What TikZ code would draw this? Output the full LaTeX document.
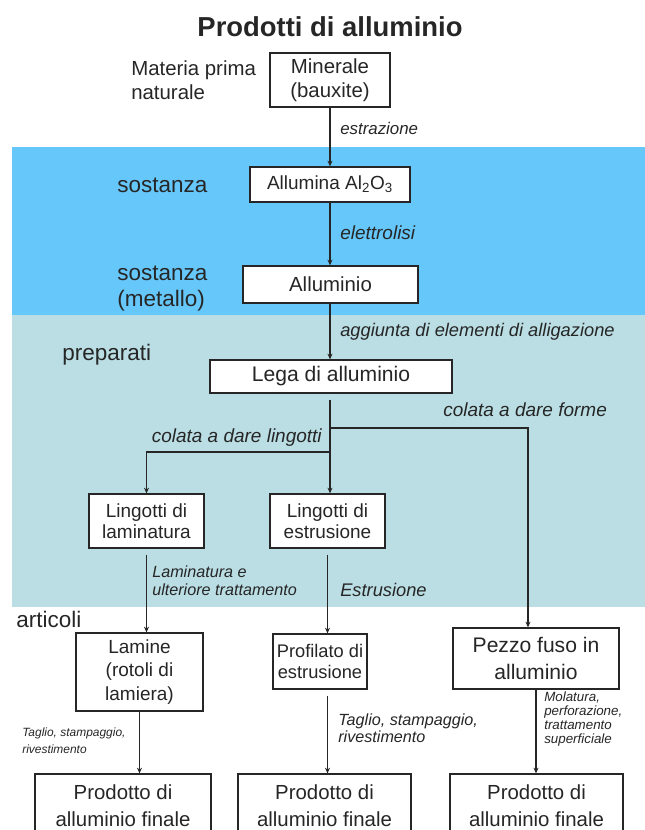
\documentclass[tikz,border=0pt]{standalone}
\usepackage{fontspec}
\setmainfont{Liberation Sans}
\usetikzlibrary{arrows.meta}
\definecolor{bandblue}{RGB}{102,199,250}
\definecolor{bandteal}{RGB}{186,222,228}
\tikzset{
  box/.style={draw=black!85,fill=white,line width=0.9pt,align=center,inner sep=0pt,text=black!85},
  lbl/.style={anchor=west,align=left,inner sep=0pt,text=black!85},
  note/.style={anchor=west,align=left,inner sep=0pt,text=black!85},
  flow/.style={line width=0.8pt,draw=black!85},
}

\begin{document}
\begin{tikzpicture}[x=0.025cm,y=-0.025cm,>={Stealth[length=4pt,width=3.5pt]}]
  \useasboundingbox (0,0) rectangle (645,830);
  % fasce
  \fill[bandblue] (12,147) rectangle (645,315);
  \fill[bandteal] (12,315) rectangle (645,607);

  \node[font=\bfseries\fontsize{19.5}{22}\selectfont,text=black!85] (titolo) at (330,27) {Prodotti di alluminio};

  % livelli
  \node[lbl,font=\fontsize{14.5}{17}\selectfont] (materia) at (131,80) {Materia prima\\naturale};
  \node[lbl,font=\fontsize{16}{19}\selectfont] (sost) at (117,185) {sostanza};
  \node[lbl,font=\fontsize{16}{19}\selectfont] (sostmet) at (117,288.5) {sostanza\\(metallo)};
  \node[lbl,font=\fontsize{16}{19}\selectfont] (prep) at (62,355) {preparati};
  \node[lbl,font=\fontsize{16}{19}\selectfont] (artic) at (16,619) {articoli};

  % caselle
  \node[box,minimum width=30mm,minimum height=13.5mm,font=\fontsize{14.5}{17}\selectfont] (mineral) at (330,80) {Minerale\\(bauxite)};
  \node[box,minimum width=40mm,minimum height=8.75mm,font=\fontsize{13.5}{15}\selectfont] (allumina) at (330,184.5) {Allumina Al\textsubscript{2}O\textsubscript{3}};
  \node[box,minimum width=43.75mm,minimum height=9.25mm,font=\fontsize{14.5}{17}\selectfont] (alluminio) at (330.5,284.5) {Alluminio};
  \node[box,minimum width=60.5mm,minimum height=8.25mm,font=\fontsize{15}{17}\selectfont] (lega) at (331,376.5) {Lega di alluminio};
  \node[box,minimum width=28.75mm,minimum height=13.5mm,font=\fontsize{13.5}{15}\selectfont] (linglam) at (146.5,521) {Lingotti di\\laminatura};
  \node[box,minimum width=28.75mm,minimum height=13.5mm,font=\fontsize{13.5}{15}\selectfont] (lingest) at (327.5,521) {Lingotti di\\estrusione};
  \node[box,minimum width=31.75mm,minimum height=19.5mm,font=\fontsize{13.5}{16.5}\selectfont] (lamine) at (139.5,672) {Lamine\\(rotoli di\\lamiera)};
  \node[box,minimum width=23.5mm,minimum height=13.75mm,font=\fontsize{13}{15}\selectfont] (profilato) at (320,661.5) {Profilato di\\estrusione};
  \node[box,minimum width=41.5mm,minimum height=15.25mm,font=\fontsize{15}{19}\selectfont] (pezzo) at (536,658.5) {Pezzo fuso in\\alluminio};
  \foreach \n/\x/\w in {1/123/44mm,2/324.5/43.25mm,3/536.5/43.25mm}{
    \node[box,minimum width=\w,minimum height=15.75mm,font=\fontsize{14.5}{19}\selectfont] (prod\n) at (\x,805.5) {Prodotto di\\alluminio finale};
  }

  % punti di diramazione
  \coordinate (jforme) at (330,428);
  \coordinate (jlingot) at (330,452);
  \coordinate (pturn) at (528,428);

  % collegamenti
  \draw[flow,->] (mineral.south) -- (mineral.south |- allumina.north);
  \draw[flow,->] (allumina.south) -- (allumina.south |- alluminio.north);
  \draw[flow,->] (alluminio.south -| allumina.south) -- (allumina.south |- lega.north);
  \draw[flow,shorten <=1.5mm] (lega.south -| jlingot) -- (jlingot);
  \draw[flow,->] (jlingot) -- (jlingot |- lingest.north);
  \draw[flow,->] (jlingot) -| (linglam.north);
  \draw[flow,->] (jforme) -- (pturn) -- (pturn |- pezzo.north);
  \draw[flow,->,shorten <=1.5mm] (linglam.south) -- (linglam.south |- lamine.north);
  \draw[flow,->,shorten <=1.5mm] (lingest.south) -- (lingest.south |- profilato.north);
  \draw[flow,->] (lamine.south) -- (lamine.south |- prod1.north);
  \draw[flow,->,shorten <=1.5mm] (profilato.south -| lingest.south) -- (lingest.south |- prod2.north);
  \draw[flow,->] (pezzo.south) -- (pezzo.south |- prod3.north);

  % etichette dei passaggi
  \node[note,font=\itshape\fontsize{12}{14}\selectfont] (estr) at (340,128) {estrazione};
  \node[note,font=\itshape\fontsize{13.5}{15}\selectfont] (elet) at (340,233) {elettrolisi};
  \node[note,font=\itshape\fontsize{13}{15}\selectfont] (aggiunta) at (340,332) {aggiunta di elementi di alligazione};
  \node[note,font=\itshape\fontsize{13.5}{15}\selectfont] (cforme) at (443,410) {colata a dare forme};
  \node[note,anchor=east,font=\itshape\fontsize{13.5}{15}\selectfont] (clingot) at (322,438) {colata a dare lingotti};
  \node[note,font=\itshape\fontsize{11.5}{12.8}\selectfont] (lamin) at (152,581) {Laminatura e\\ulteriore trattamento};
  \node[note,font=\itshape\fontsize{13}{15}\selectfont] (estrus) at (340,590) {Estrusione};
  \node[note,font=\itshape\fontsize{8.5}{12}\selectfont] (taglio1) at (22,740.5) {Taglio, stampaggio,\\rivestimento};
  \node[note,font=\itshape\fontsize{11.5}{12}\selectfont] (taglio2) at (338,728.5) {Taglio, stampaggio,\\rivestimento};
  \node[note,font=\itshape\fontsize{9.5}{10}\selectfont] (molat) at (544,719) {Molatura,\\perforazione,\\trattamento\\superficiale};
\end{tikzpicture}
\end{document}
